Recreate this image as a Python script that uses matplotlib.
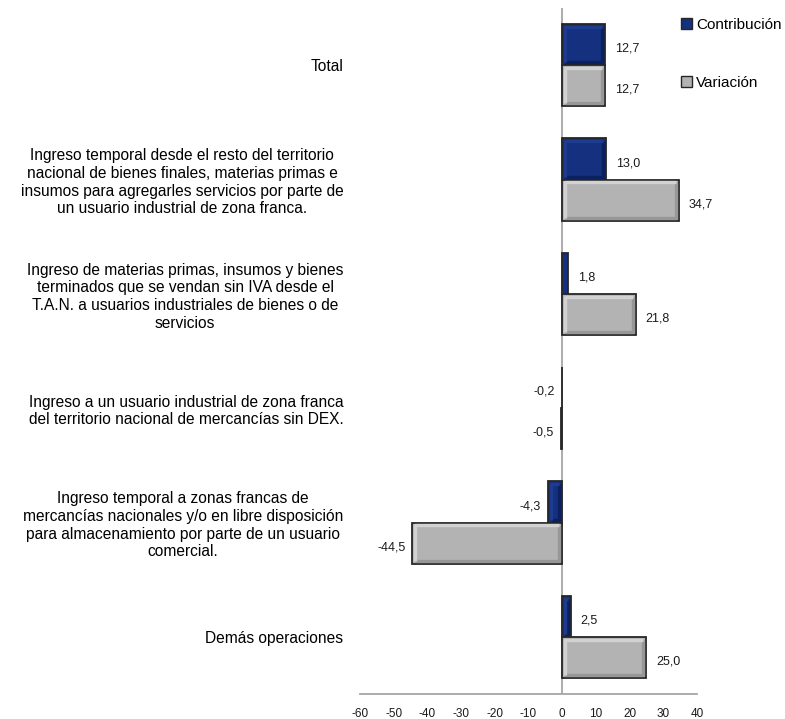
import numpy as np
import matplotlib
matplotlib.use("Agg")
import matplotlib.pyplot as plt
from matplotlib.patches import Patch

plt.rcParams['font.family'] = ['Liberation Sans', 'DejaVu Sans']

# categories, top to bottom
categorias = [
    "Total",
    "Ingreso temporal desde el resto del territorio\nnacional de bienes finales, materias primas e\ninsumos para agregarles servicios por parte de\nun usuario industrial de zona franca.",
    "Ingreso de materias primas, insumos y bienes\nterminados que se vendan sin IVA desde el\nT.A.N. a usuarios industriales de bienes o de\nservicios",
    "Ingreso a un usuario industrial de zona franca\ndel territorio nacional de mercancías sin DEX.",
    "Ingreso temporal a zonas francas de\nmercancías nacionales y/o en libre disposición\npara almacenamiento por parte de un usuario\ncomercial.",
    "Demás operaciones",
]
contribucion = [12.7, 13.0, 1.8, -0.2, -4.3, 2.5]
variacion = [12.7, 34.7, 21.8, -0.5, -44.5, 25.0]
xticks = [-60, -50, -40, -30, -20, -10, 0, 10, 20, 30, 40]

azul = "#14307f"
gris = "#b3b3b3"

fig = plt.figure(figsize=(7.85, 7.19), dpi=100)
ax = fig.add_axes([360 / 785, 25 / 719, 337 / 785, 686 / 719])

y = np.arange(len(categorias))
h = 0.36

ax.axvline(0, color="#a6a6a6", lw=1.3, zorder=0)


def bevel_bars(ypos, vals, face, light, dark):
    ax.barh(ypos, vals, height=h, color=face, edgecolor="#262626", lw=1.3, zorder=2)
    dx = 0.9   # about 3 px in data units
    dy = 0.025
    for yy, v in zip(ypos, vals):
        if abs(v) < 2.5:
            continue
        s = np.sign(v)
        x0, x1 = sorted([s * dx, v - s * dx])
        # darker inner band on bottom and right
        ax.plot([x0, x1, x1], [yy + h / 2 - dy, yy + h / 2 - dy, yy - h / 2 + dy],
                color=dark, lw=2.4, zorder=3, solid_capstyle="butt")
        # lighter inner band on top and left
        ax.plot([x0, x0, x1], [yy + h / 2 - dy, yy - h / 2 + dy, yy - h / 2 + dy],
                color=light, lw=2.4, zorder=3, solid_capstyle="butt")


bevel_bars(y - h / 2, contribucion, azul, "#1d3b8f", "#0b215f")
bevel_bars(y + h / 2, variacion, gris, "#d2d2d2", "#979797")


def etiquetas(ypos, vals):
    for yy, v in zip(ypos, vals):
        txt = f"{v:.1f}".replace(".", ",")
        if v >= 0:
            ax.annotate(txt, (v, yy), xytext=(7, -3), textcoords="offset points",
                        ha="left", va="center", fontsize=9, color="#1a1a1a")
        else:
            ax.annotate(txt, (v, yy), xytext=(-5, -3), textcoords="offset points",
                        ha="right", va="center", fontsize=9, color="#1a1a1a")


etiquetas(y - h / 2, contribucion)
etiquetas(y + h / 2, variacion)

ax.set_xlim(-60, 40)
ax.set_ylim(len(categorias) - 0.5, -0.5)
ax.set_xticks(xticks)
ax.set_xticklabels([str(t) for t in xticks], fontsize=8.5, color="#1a1a1a")
ax.set_yticks(y)
ax.set_yticklabels(categorias, fontsize=11.2, linespacing=1.22)
for lab in ax.get_yticklabels():
    lab.set_multialignment("center")
ax.tick_params(axis="both", length=0)
ax.tick_params(axis="y", pad=12)
ax.tick_params(axis="x", pad=10)
for side in ["top", "right", "left"]:
    ax.spines[side].set_visible(False)
ax.spines["bottom"].set_color("#a6a6a6")
ax.spines["bottom"].set_linewidth(1.3)

handles = [Patch(facecolor=azul, edgecolor="#262626", label="Contribución"),
           Patch(facecolor=gris, edgecolor="#262626", label="Variación")]
fig.legend(handles=handles, loc="upper left", bbox_to_anchor=(681 / 785, 1 - 18 / 719),
           frameon=False, fontsize=11, handlelength=0.7, handleheight=0.7,
           handletextpad=0.3, labelspacing=2.85, borderpad=0, borderaxespad=0)

fig.savefig("out.png", dpi=100)
plt.close(fig)
